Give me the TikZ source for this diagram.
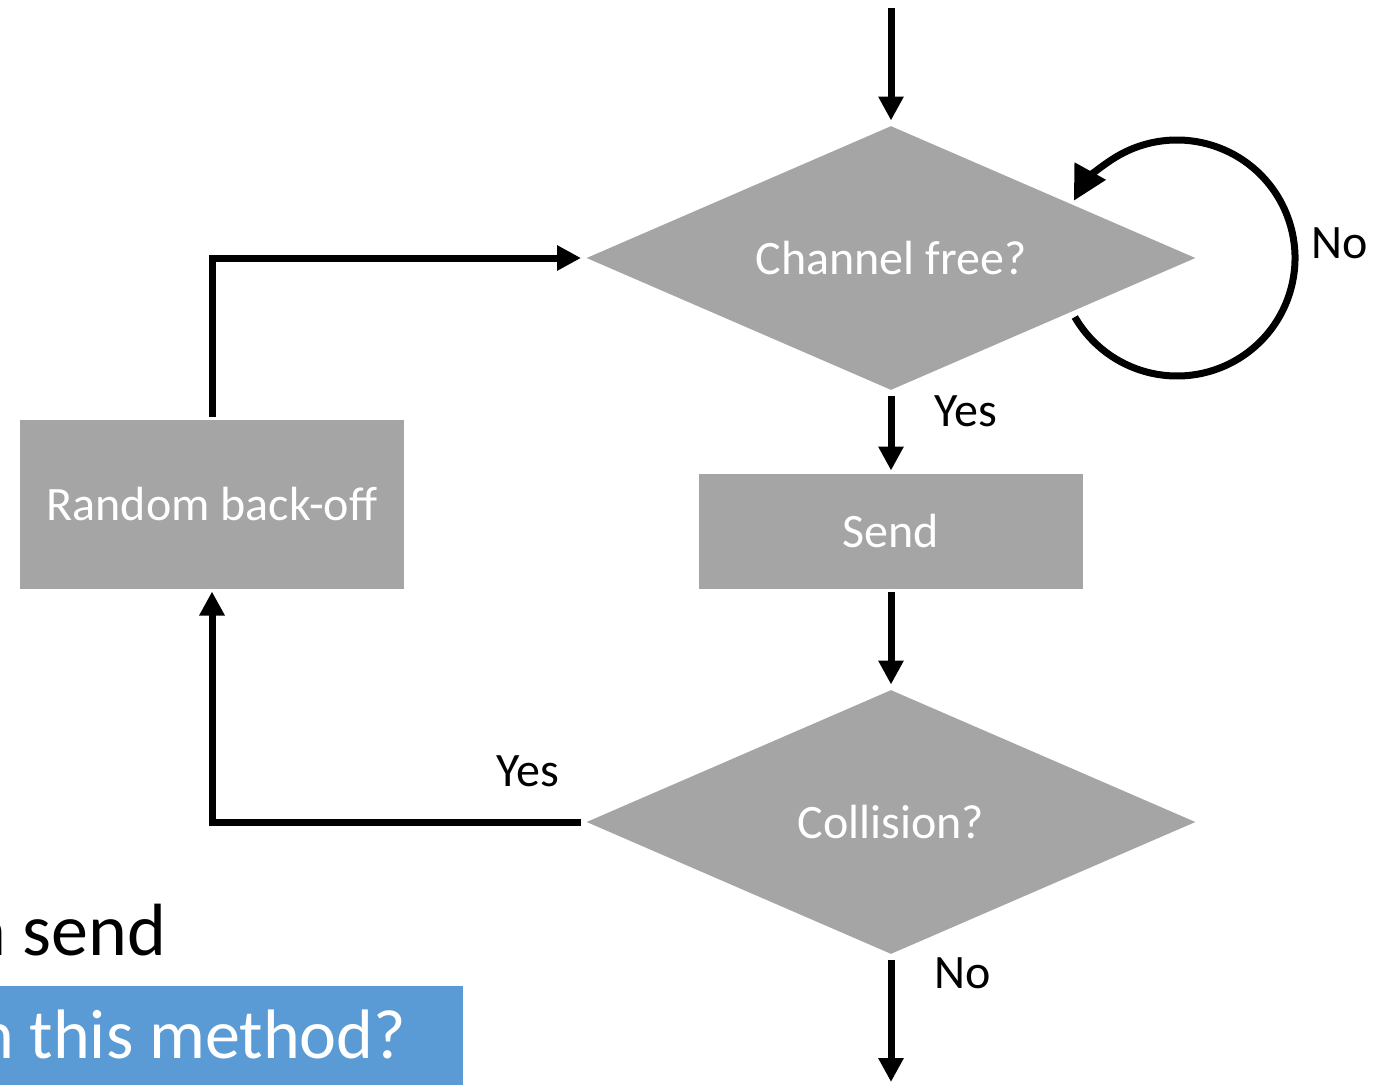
\documentclass[tikz,border=0pt]{standalone}
\usepackage{fontspec}
\setmainfont{Carlito}
\usepackage{xcolor}
\usetikzlibrary{shapes.geometric,arrows.meta,positioning}

\definecolor{boxgray}{HTML}{A5A5A5}
\definecolor{askblue}{HTML}{5B9BD5}

\tikzset{
    decision/.style={diamond, fill=boxgray, text=white, aspect=2.3, minimum width=612pt, minimum height=267pt, inner sep=0pt, outer sep=4pt, font=\fontsize{48}{52}\selectfont},
    process/.style={rectangle, fill=boxgray, text=white, minimum width=384pt, inner sep=0pt, outer sep=3pt, font=\fontsize{48}{52}\selectfont},
    flow/.style={line width=7pt, -{Triangle[length=24pt,width=24pt]}},
    lbl/.style={font=\fontsize{48}{52}\selectfont},
    bigtext/.style={font=\fontsize{74}{80}\selectfont, inner sep=0pt}
}

\begin{document}
\begin{tikzpicture}[x=1pt, y=-1pt]
    \useasboundingbox (0,0) rectangle (1383,1084);
    \coordinate (start) at (891,8); % incoming arrow
    \node [decision] (chan) at (891,258) {Channel free?}; % first test
    \node [process, minimum height=115pt] (send) at (891,531) {Send};
    \node [decision] (coll) at (891,822) {Collision?}; % second test
    \node [process, minimum height=169pt] (backoff) at (212,504) {Random back-off};
    \coordinate (finish) at (891,1082); % outgoing arrow
    \coordinate (loopc) at (1177,258); % centre of the wait loop

    % labels
    \node [lbl] (nowait) at (1340,243) {No};
    \node [lbl] (yesfree) at (966,411) {Yes};
    \node [lbl] (yescoll) at (528,771) {Yes};
    \node [lbl] (nocoll) at (963,973) {No};

    % connectors
    \draw [flow] (start) -- (chan.north);
    \draw [flow] (chan.south) -- (send.north);
    \draw [flow] (send.south) -- (coll.north);
    \draw [flow] (coll.south) -- (finish);
    \draw [flow] (coll.west) -| (backoff.south);
    \draw [flow] (backoff.north) |- (chan.west);
    \draw [line width=7pt, -{Triangle[length=34pt,width=34pt]}] (loopc) ++(210:118pt) arc [start angle=210, end angle=511, radius=118pt];

    % slide text behind the chart
    \node [bigtext, anchor=base west] (sendtxt) at (-33,955) {n send};
    \fill [askblue] (-10,986) rectangle (463,1100);
    \node [bigtext, text=white, font=\fontsize{70}{76}\selectfont, anchor=base west] (asktxt) at (-23,1058) {n this method?};
\end{tikzpicture}
\end{document}
